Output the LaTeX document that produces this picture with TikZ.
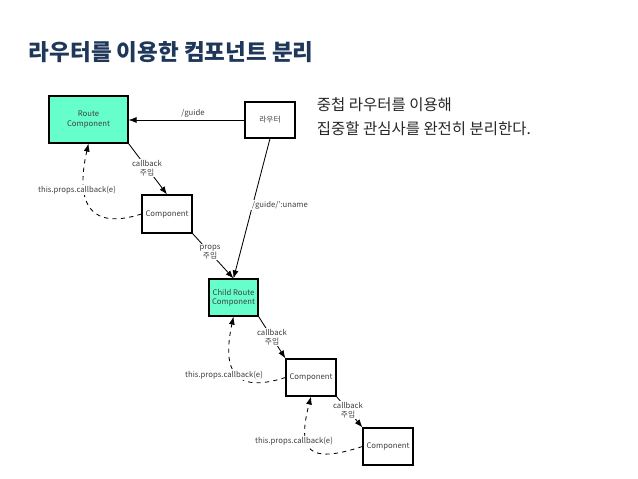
\documentclass[tikz,border=0pt]{standalone}
\usepackage{fontspec}
\setmainfont{Noto Sans CJK KR}
\usepackage{xcolor}
\usetikzlibrary{arrows.meta}
\definecolor{routefill}{RGB}{102,255,204}
\definecolor{titleblue}{RGB}{31,56,90}

\begin{document}
\begin{tikzpicture}[x=0.025cm,y=-0.025cm,>=Latex,
  box/.style={draw,thick,fill=white,align=center,inner sep=1pt,text=black!75,font=\fontsize{5.5}{6.5}\selectfont},
  route/.style={box,fill=routefill},
  lbl/.style={align=center,inner sep=1pt,fill=white,text=black!75,font=\fontsize{5.5}{6.5}\selectfont},
  pass/.style={->,semithick},
  back/.style={->,semithick,dashed}]
\useasboundingbox (0,0) rectangle (638,479);
\node[anchor=west,font=\bfseries\fontsize{16}{19}\selectfont,text=titleblue] (title) at (24,52) {라우터를 이용한 컴포넌트 분리};
\node[anchor=north west,align=left,font=\fontsize{11}{17}\selectfont,text=black!85] (note) at (312,93) {중첩 라우터를 이용해\\집중할 관심사를 완전히 분리한다.};
\node[route,minimum width=1.975cm,minimum height=1.175cm] (rootC) at (88.5,119.5) {Route\\Component};
\node[box,minimum width=1.25cm,minimum height=0.9cm] (router) at (270,120) {라우터};
\node[box,minimum width=1.25cm,minimum height=0.95cm] (comp1) at (167,214) {Component};
\node[route,minimum width=1.225cm,minimum height=0.925cm] (childC) at (233.5,297.5) {Child Route\\Component};
\node[box,minimum width=1.25cm,minimum height=0.925cm] (comp2) at (311,377.5) {Component};
\node[box,minimum width=1.25cm,minimum height=0.925cm] (comp3) at (388,446.5) {Component};
\draw[pass] (router.west) -- (rootC.east |- router.west);
\draw[pass] (router.south) -- (childC.north);
\draw[pass] (rootC.south east) -- (comp1.north);
\draw[pass] (comp1.south east) -- (childC.north);
\draw[pass] (childC.south east) -- (comp2.north west);
\draw[pass] (comp2.south east) -- (comp3.north west);
\draw[back] (comp1.west) .. controls +(-50,16) and +(-14,62) .. (rootC.south);
\draw[back] (comp2.west) .. controls +(-50,16) and +(-12,56) .. (childC.south);
\draw[back] (comp3.west) .. controls +(-55,18) and +(-14,54) .. (comp2.south);
\node[lbl] (l1) at (193,113) {/guide};
\node[lbl] (l2) at (280,205) {/guide/':uname};
\node[lbl] (l3) at (147,168) {callback\\주입};
\node[lbl] (l4) at (210,252) {props\\주입};
\node[lbl] (l5) at (272,337) {callback\\주입};
\node[lbl] (l6) at (348,410) {callback\\주입};
\node[lbl] (l7) at (77,190) {this.props.callback(e)};
\node[lbl] (l8) at (224,375) {this.props.callback(e)};
\node[lbl] (l9) at (294,441) {this.props.callback(e)};
\end{tikzpicture}
\end{document}
